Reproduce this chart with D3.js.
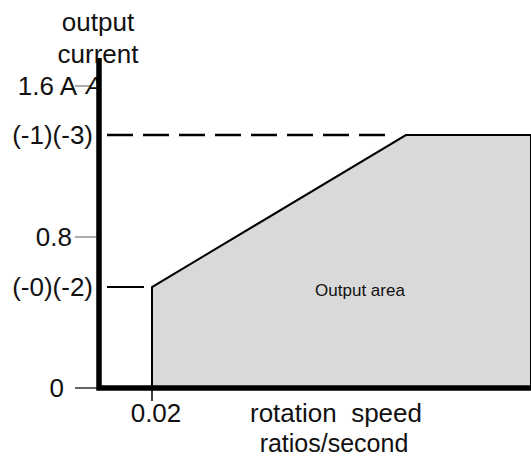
<!DOCTYPE html>
<html>
<head>
<meta charset="utf-8">
<script src="https://cdn.jsdelivr.net/npm/d3@7"></script>
<style>
  body { margin: 0; background: #fff; }
  text { font-family: "Liberation Sans", Arial, sans-serif; fill: #111; }
</style>
</head>
<body>
<script>
// output area outline (speed in ratios/second, current in A)
const areaSpeed = [0.02, 0.02, 0.1158, 0.163, 0.163];
const areaCurrent = [0, 0.535, 1.34, 1.34, 0];

// y tick labels
const yTickValues = [0, 0.8, 1.6];
const yTickLabels = ["0", "0.8", "1.6 A"];
// marked levels
const levelValues = [0.535, 1.34];
const levelLabels = ["(-0)(-2)", "(-1)(-3)"];
// x ticks
const xTickValues = [0.02];
const xTickLabels = ["0.02"];

const width = 531, height = 457;
const big = "26px";

const svg = d3.select("body").append("svg")
    .attr("width", width)
    .attr("height", height);

const x = d3.scaleLinear().domain([0, 0.163]).range([99, 531]);
const y = d3.scaleLinear().domain([0, 1.6]).range([388, 86]);

// shaded area
const pts = areaSpeed.map((s, i) => [x(s), y(areaCurrent[i])]);
svg.append("path")
    .attr("d", d3.line()(pts))
    .attr("fill", "#d9d9d9")
    .attr("stroke", "#000")
    .attr("stroke-width", 2);

svg.append("text")
    .attr("x", 360).attr("y", 296)
    .attr("text-anchor", "middle")
    .style("font-size", "17px")
    .text("Output area");

// y tick marks (labels don't line up the same in the original)
const labelEnd = [64, 72, 77];
yTickValues.forEach((v, i) => {
    svg.append("line")
        .attr("x1", 75).attr("x2", i == 2 ? 91 : 97)
        .attr("y1", y(v)).attr("y2", y(v))
        .attr("stroke", i == 0 ? "#000" : "#777")
        .attr("stroke-width", 1.2);
    svg.append("text")
        .attr("x", labelEnd[i]).attr("y", y(v))
        .attr("dy", "0.35em")
        .attr("text-anchor", "end")
        .style("font-size", big)
        .text(yTickLabels[i]);
});
// stray slanted A behind the axis
svg.append("text")
    .attr("x", 86).attr("y", y(1.6))
    .attr("dy", "0.35em")
    .style("font-size", "24px")
    .style("font-style", "italic")
    .text("A");

// level lines
svg.append("line")
    .attr("x1", 107).attr("x2", x(0.02) - 8)
    .attr("y1", y(levelValues[0])).attr("y2", y(levelValues[0]))
    .attr("stroke", "#000").attr("stroke-width", 2.2);
svg.append("line")
    .attr("x1", 107).attr("x2", 386)
    .attr("y1", y(levelValues[1])).attr("y2", y(levelValues[1]))
    .attr("stroke", "#000").attr("stroke-width", 2.5)
    .attr("stroke-dasharray", "26,10");
levelValues.forEach((v, i) => {
    svg.append("text")
        .attr("x", 93).attr("y", y(v))
        .attr("dy", "0.35em")
        .attr("text-anchor", "end")
        .style("font-size", big)
        .text(levelLabels[i]);
});

// x ticks
xTickValues.forEach((v, i) => {
    svg.append("line")
        .attr("x1", x(v)).attr("x2", x(v))
        .attr("y1", 388).attr("y2", 401)
        .attr("stroke", "#000").attr("stroke-width", 1.5);
    svg.append("text")
        .attr("x", x(v) + 4).attr("y", 422)
        .attr("text-anchor", "middle")
        .style("font-size", big)
        .text(xTickLabels[i]);
});

// thick axes
svg.append("path")
    .attr("d", d3.line()([[99, 58], [99, 388], [531, 388]]))
    .attr("fill", "none")
    .attr("stroke", "#000")
    .attr("stroke-width", 5.5);

// axis titles
svg.append("text")
    .attr("x", 336).attr("y", 422)
    .attr("text-anchor", "middle")
    .style("font-size", big)
    .style("white-space", "pre")
    .text("rotation  speed");
svg.append("text")
    .attr("x", 334).attr("y", 452)
    .attr("text-anchor", "middle")
    .style("font-size", "25px")
    .text("ratios/second");

svg.append("text")
    .attr("x", 98).attr("y", 31)
    .attr("text-anchor", "middle")
    .style("font-size", big)
    .text("output");
svg.append("text")
    .attr("x", 98).attr("y", 63)
    .attr("text-anchor", "middle")
    .style("font-size", big)
    .text("current");
</script>
</body>
</html>
